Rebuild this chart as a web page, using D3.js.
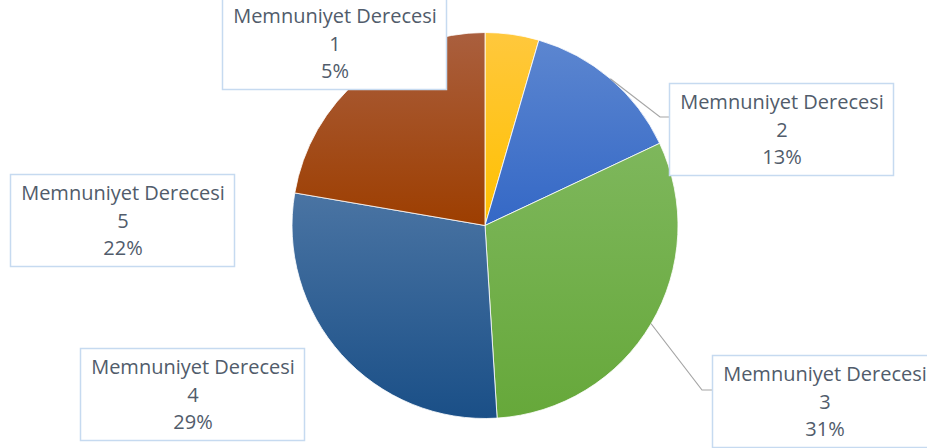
<!DOCTYPE html>
<html><head><meta charset="utf-8">
<script src="https://cdn.jsdelivr.net/npm/d3@7"></script>
<style>html,body{margin:0;padding:0;background:#fff;overflow:hidden}</style>
</head><body>
<svg id="c" width="927" height="448"></svg>
<script>
const seriesName = "Memnuniyet Derecesi";
const categories = ["1", "2", "3", "4", "5"];
const values = [4.5, 13.5, 31, 28.7, 22.3];
const percentLabels = ["5%", "13%", "31%", "29%", "22%"];

const colorTop = ["#ffc83d", "#5c86d0", "#7eb75c", "#4a74a3", "#aa5f3e"];
const colorBottom = ["#ffc000", "#3468c6", "#66a83a", "#1a4f87", "#9d3e00"];

// layout (label boxes: left, top) and leader-line elbows
const boxLayout = [
  {x: 222, y: -3, leader: null},
  {x: 669, y: 83, leader: [660, 117]},
  {x: 712, y: 355, leader: [702, 390]},
  {x: 80, y: 348, leader: null},
  {x: 10, y: 174, leader: null}
];
const boxW = 224, boxH = 92;

const svg = d3.select("#c");
const cx = 485, cy = 225.5, R = 193;

const defs = svg.append("defs");
categories.forEach((c, i) => {
  const g = defs.append("linearGradient").attr("id", "g" + i)
    .attr("x1", 0).attr("y1", 0).attr("x2", 0).attr("y2", 1);
  g.append("stop").attr("offset", "0%").attr("stop-color", colorTop[i]);
  g.append("stop").attr("offset", "100%").attr("stop-color", colorBottom[i]);
});

const pie = d3.pie().sort(null).value(d => d)(values);
const arc = d3.arc().innerRadius(0).outerRadius(R);

const gp = svg.append("g").attr("transform", `translate(${cx},${cy})`);
gp.selectAll("path").data(pie).join("path")
  .attr("d", arc)
  .attr("fill", (d, i) => `url(#g${i})`)
  .attr("stroke", "#ffffff").attr("stroke-width", 0.8);

// leader lines
const edge = d3.arc().innerRadius(R).outerRadius(R);
pie.forEach((d, i) => {
  const L = boxLayout[i];
  if (!L.leader) return;
  const [px, py] = edge.centroid(d);
  svg.append("polyline")
    .attr("points", `${cx + px},${cy + py} ${L.leader[0]},${L.leader[1]} ${L.x},${L.leader[1]}`)
    .attr("fill", "none").attr("stroke", "#a6a6a6").attr("stroke-width", 1.2);
});

// label boxes
categories.forEach((c, i) => {
  const L = boxLayout[i];
  const g = svg.append("g").attr("transform", `translate(${L.x},${L.y})`);
  g.append("rect").attr("x", 0.5).attr("y", 0.5).attr("width", boxW).attr("height", boxH)
    .attr("fill", "#ffffff").attr("stroke", "#c6daf0").attr("stroke-width", 1.5);
  const lines = [seriesName, c, percentLabels[i]];
  const offs = [26, 54, 81];
  lines.forEach((t, j) => {
    g.append("text").attr("x", boxW / 2 + 1).attr("y", offs[j])
      .attr("text-anchor", "middle")
      .attr("font-family", "'Open Sans', 'Noto Sans', sans-serif")
      .attr("font-size", 20).attr("fill", "#515c6b")
      .text(t);
  });
});
</script>
</body></html>
